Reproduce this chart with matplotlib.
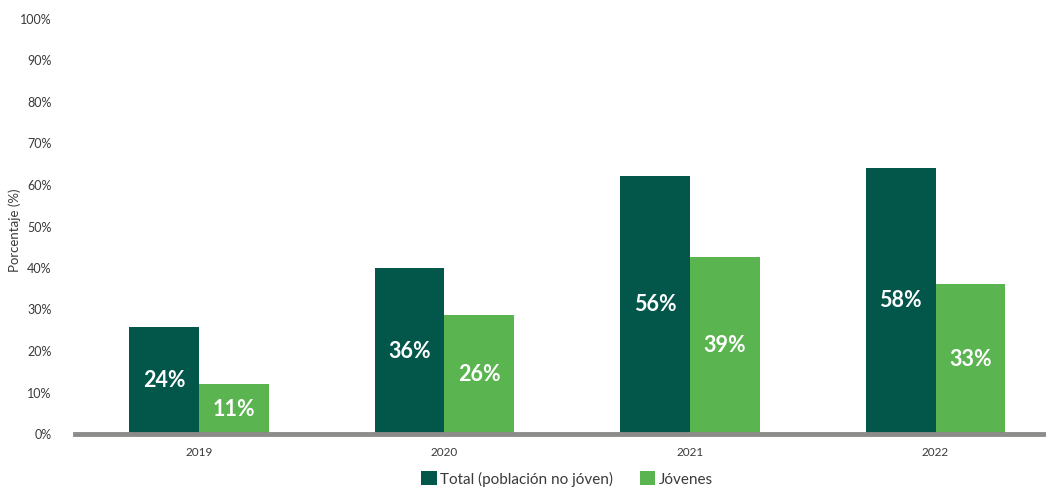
import matplotlib.pyplot as plt
import numpy as np

# datos
years = ["2019", "2020", "2021", "2022"]
total_bars = [25.8, 40.0, 62.2, 64.1]
jovenes_bars = [12.0, 28.7, 42.6, 36.1]
total_labels = ["24%", "36%", "56%", "58%"]
jovenes_labels = ["11%", "26%", "39%", "33%"]
yticks = [0, 10, 20, 30, 40, 50, 60, 70, 80, 90, 100]

dark = "#02574A"
light = "#5AB450"
txt = "#3A3A3A"

plt.rcParams['font.family'] = ['Lato', 'DejaVu Sans']

fig = plt.figure(figsize=(10.46, 4.87), dpi=100)
ax = fig.add_axes([75 / 1046, 1 - 434 / 487, 1 - 75 / 1046, (434 - 19) / 487])

x = np.arange(len(years))
w = 0.285
b1 = ax.bar(x - w / 2, total_bars, w, color=dark, label="Total (población no jóven)")
b2 = ax.bar(x + w / 2, jovenes_bars, w, color=light, label="Jóvenes")

# etiquetas dentro de las barras
for bars, labels in ((b1, total_labels), (b2, jovenes_labels)):
    for rect, lab in zip(bars, labels):
        ax.text(rect.get_x() + rect.get_width() / 2, rect.get_height() / 2, lab,
                ha="center", va="center", color="white", fontsize=15.5, fontweight="bold")

ax.set_xlim(-0.505, 3.45)
ax.set_ylim(0, 100)
ax.set_xticks(x)
ax.set_xticklabels(years, fontsize=8.5, color=txt)
ax.set_yticks(yticks)
ax.set_yticklabels([f"{v}%" for v in yticks], fontsize=9, color=txt)
ax.tick_params(axis="both", length=0)
ax.tick_params(axis="x", pad=9)
ax.tick_params(axis="y", pad=17)

for s in ("top", "right", "left"):
    ax.spines[s].set_visible(False)
ax.spines["bottom"].set_color("#8C8C8A")
ax.spines["bottom"].set_linewidth(3.5)

fig.text(15 / 1046, 1 - 230 / 487, "Porcentaje (%)", rotation=90, ha="center", va="center",
         fontsize=9.5, color=txt)

fig.legend(handles=[b1, b2], loc="center", bbox_to_anchor=(567 / 1046, 1 - 479 / 487),
           ncol=2, frameon=False, fontsize=11, handlelength=1.0, handleheight=1.0,
           handletextpad=0.2, columnspacing=1.8, borderaxespad=0, labelcolor=txt)

fig.savefig("out.png", dpi=100)
